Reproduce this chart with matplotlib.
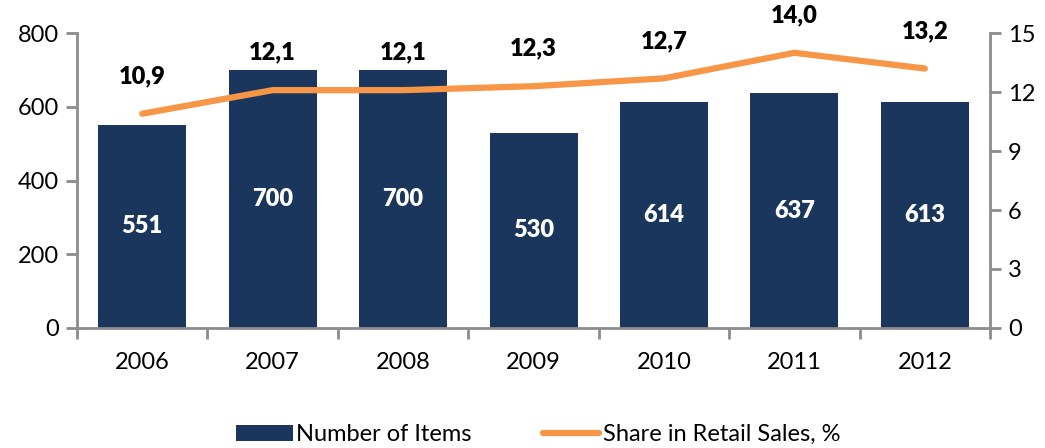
import matplotlib
matplotlib.use("Agg")
import matplotlib.pyplot as plt

plt.rcParams["font.family"] = ["Lato", "DejaVu Sans"]

years = ["2006", "2007", "2008", "2009", "2010", "2011", "2012"]
items = [551, 700, 700, 530, 614, 637, 613]
share = [10.9, 12.1, 12.1, 12.3, 12.7, 14.0, 13.2]

bar_color = "#1A365D"
line_color = "#F79646"
spine_color = "#8C8C8C"

fig = plt.figure(figsize=(10.45, 4.48), dpi=100)
ax = fig.add_axes([0.0737, 0.268, 0.8737, 0.658])
x = range(len(years))

bars = ax.bar(x, items, width=0.675, color=bar_color, label="Number of Items", zorder=2)
for xi, v in zip(x, items):
    ax.text(xi, v / 2, str(v), ha="center", va="center", color="white",
            fontsize=17, fontweight="heavy", zorder=3)

ax.set_xlim(-0.5, len(years) - 0.5)
ax.set_ylim(0, 800)
ax.set_yticks(range(0, 801, 200))
ax.set_xticks([i - 0.5 for i in range(len(years) + 1)], minor=False)
ax.set_xticklabels([])
ax.set_xticks(list(x), minor=True)
ax.set_xticklabels(years, minor=True)
ax.tick_params(axis="x", which="major", length=8, width=2, color=spine_color, direction="out")
ax.tick_params(axis="x", which="minor", length=0, pad=17, labelsize=17)
ax.tick_params(axis="y", length=8, width=2, color=spine_color, labelsize=17, pad=5)

ax2 = ax.twinx()
ax2.plot(x, share, color=line_color, lw=4.5, solid_capstyle="round",
         label="Share in Retail Sales, %", zorder=4)
for xi, v in zip(x, share):
    ax2.annotate(f"{v:.1f}".replace(".", ","), (xi, v), xytext=(0, 27),
                 textcoords="offset points", ha="center", va="center",
                 fontsize=17, fontweight="heavy")
ax2.set_ylim(0, 15)
ax2.set_yticks(range(0, 16, 3))
ax2.tick_params(axis="y", length=8, width=2, color=spine_color, labelsize=17, pad=5)

for a in (ax, ax2):
    a.spines["top"].set_visible(False)
    for s in ("left", "right", "bottom"):
        a.spines[s].set_color(spine_color)
        a.spines[s].set_linewidth(2)
ax.spines["right"].set_visible(False)
ax2.spines["left"].set_visible(False)
ax2.spines["bottom"].set_visible(False)

h1, l1 = ax.get_legend_handles_labels()
h2, l2 = ax2.get_legend_handles_labels()
fig.legend(h1 + h2, l1 + l2, loc="center", bbox_to_anchor=(0.515, 0.03), ncol=2,
           frameon=False, fontsize=17, handlelength=2.4, handletextpad=0.15,
           columnspacing=3.0)

fig.savefig("out.png", dpi=100)
